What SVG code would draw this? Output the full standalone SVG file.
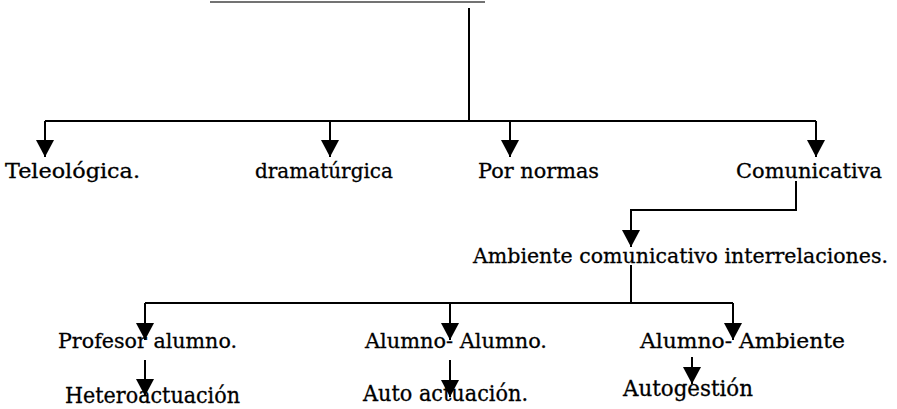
<svg xmlns="http://www.w3.org/2000/svg" width="897" height="409" viewBox="0 0 897 409">
<style>
.ln{fill:none;stroke:#000;stroke-width:2}
.ar{marker-end:url(#ah)}
text{font-family:"DejaVu Serif","Liberation Serif",serif;font-size:21px;fill:#000;stroke:#000;stroke-width:0.3}
.lg{font-size:22px}
</style>
<defs>
<marker id="ah" markerUnits="userSpaceOnUse" markerWidth="17" markerHeight="18" viewBox="0 -8.5 16 17" refX="16" refY="0" orient="auto">
<path d="M0,-8.5 L16,0 L0,8.5 z" fill="#000"/>
</marker>
</defs>
<rect width="897" height="409" fill="#fff"/>
<line x1="210" y1="2" x2="485" y2="2" stroke="#444" stroke-width="1.5"/>
<g id="connectors">
<path class="ln" d="M469,8 V121"/>
<path class="ln" d="M45,121 H816"/>
<path class="ln ar" d="M45,121 V157"/>
<path class="ln ar" d="M330,121 V157"/>
<path class="ln ar" d="M510,121 V157"/>
<path class="ln ar" d="M816,121 V157"/>
<path class="ln ar" d="M796,181 V210 H631 V247"/>
<path class="ln" d="M631,265 V303"/>
<path class="ln" d="M145,303 H733"/>
<path class="ln ar" d="M145,303 V340"/>
<path class="ln ar" d="M450,303 V340"/>
<path class="ln ar" d="M733,303 V340"/>
<path class="ln ar" d="M145,360 V396"/>
<path class="ln ar" d="M450,360 V397"/>
<path class="ln ar" d="M692,357 V384"/>
</g>
<g id="n-teleologica"><text x="5" y="178" textLength="135" lengthAdjust="spacingAndGlyphs">Teleológica.</text></g>
<g id="n-dramaturgica"><text x="255" y="178" textLength="138" lengthAdjust="spacingAndGlyphs">dramatúrgica</text></g>
<g id="n-pornormas"><text x="478" y="178" textLength="121" lengthAdjust="spacingAndGlyphs">Por normas</text></g>
<g id="n-comunicativa"><text x="736" y="178" textLength="146" lengthAdjust="spacingAndGlyphs">Comunicativa</text></g>
<g id="n-ambiente"><text x="473" y="263" textLength="415" lengthAdjust="spacingAndGlyphs">Ambiente comunicativo interrelaciones.</text></g>
<g id="n-profesor"><text x="58" y="348" textLength="179" lengthAdjust="spacingAndGlyphs">Profesor alumno.</text></g>
<g id="n-alumno-alumno"><text x="365" y="348" textLength="182" lengthAdjust="spacingAndGlyphs">Alumno- Alumno.</text></g>
<g id="n-alumno-ambiente"><text x="640" y="348" textLength="205" lengthAdjust="spacingAndGlyphs">Alumno- Ambiente</text></g>
<g id="n-hetero"><text class="lg" x="65" y="403" textLength="175" lengthAdjust="spacingAndGlyphs">Heteroactuación</text></g>
<g id="n-auto"><text class="lg" x="363" y="401" textLength="165" lengthAdjust="spacingAndGlyphs">Auto actuación.</text></g>
<g id="n-autogestion"><text class="lg" x="623" y="396" textLength="130" lengthAdjust="spacingAndGlyphs">Autogestión</text></g>
</svg>
